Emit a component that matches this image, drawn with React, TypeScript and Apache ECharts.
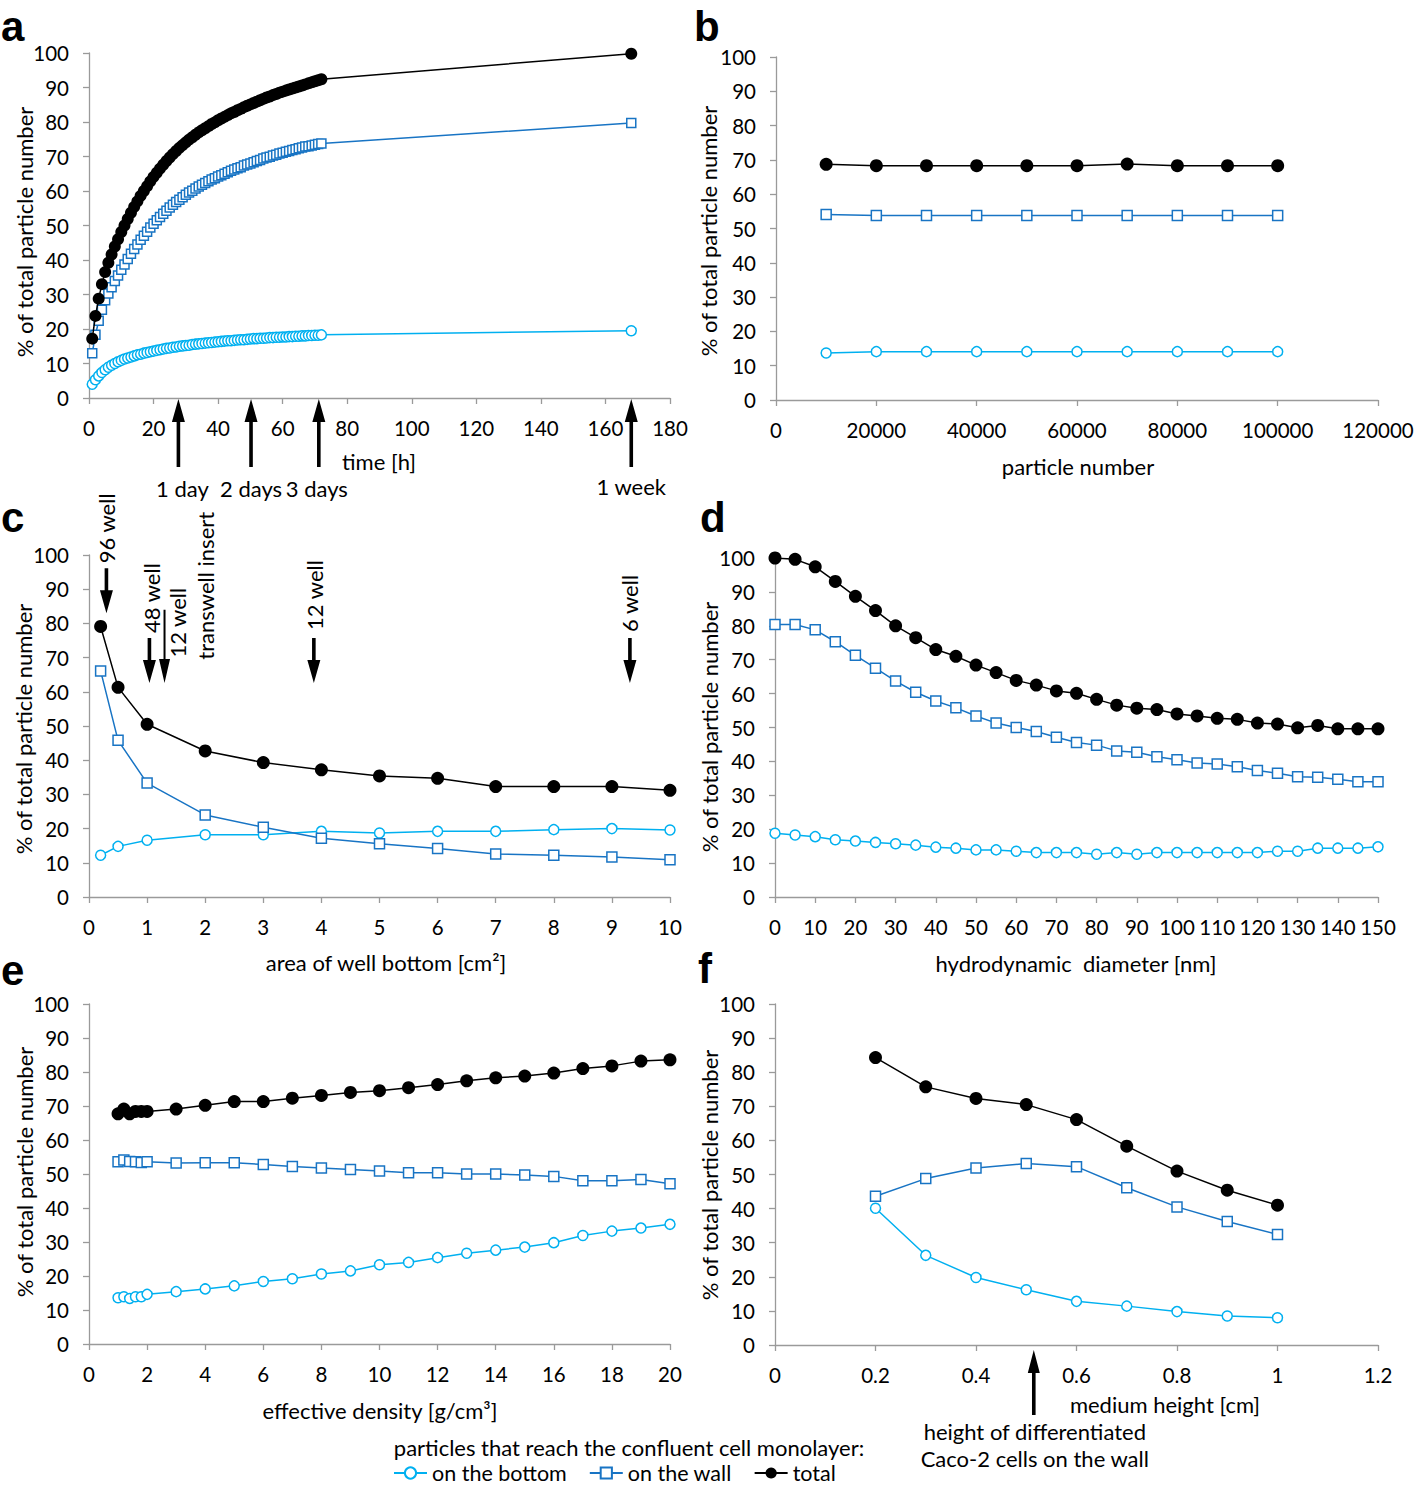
import React, { useEffect, useRef } from "react";
import * as echarts from "echarts";

// ---------- Panel a: time course ----------
const timeHours = [
  1, 2, 3, 4, 5, 6, 7, 8, 9, 10,
  11, 12, 13, 14, 15, 16, 17, 18, 19, 20,
  21, 22, 23, 24, 25, 26, 27, 28, 29, 30,
  31, 32, 33, 34, 35, 36, 37, 38, 39, 40,
  41, 42, 43, 44, 45, 46, 47, 48, 49, 50,
  51, 52, 53, 54, 55, 56, 57, 58, 59, 60,
  61, 62, 63, 64, 65, 66, 67, 68, 69, 70,
  71, 72, 168,
];
const aTotal = [
  17.2, 23.8, 28.8, 33.0, 36.5, 39.2, 41.6, 43.9, 46.0, 48.1,
  50.0, 51.9, 53.7, 55.4, 57.0, 58.6, 60.0, 61.4, 62.8, 64.1,
  65.3, 66.5, 67.6, 68.7, 69.7, 70.7, 71.6, 72.5, 73.3, 74.1,
  74.9, 75.6, 76.3, 77.0, 77.6, 78.2, 78.8, 79.4, 79.9, 80.5,
  81.0, 81.5, 82.0, 82.5, 82.9, 83.4, 83.8, 84.3, 84.7, 85.1,
  85.5, 85.9, 86.3, 86.7, 87.1, 87.4, 87.8, 88.1, 88.5, 88.8,
  89.1, 89.4, 89.7, 90.0, 90.3, 90.6, 90.9, 91.2, 91.5, 91.8,
  92.1, 92.4, 99.8,
];
const aWall = [
  13.0, 18.3, 22.4, 25.6, 28.3, 30.3, 32.1, 33.9, 35.5, 37.2,
  38.7, 40.3, 41.8, 43.2, 44.5, 45.9, 47.0, 48.2, 49.4, 50.5,
  51.5, 52.5, 53.4, 54.3, 55.2, 56.0, 56.8, 57.5, 58.2, 58.9,
  59.6, 60.1, 60.7, 61.3, 61.8, 62.3, 62.8, 63.3, 63.7, 64.2,
  64.6, 65.0, 65.4, 65.9, 66.2, 66.6, 66.9, 67.4, 67.7, 68.0,
  68.3, 68.7, 69.0, 69.4, 69.7, 69.9, 70.3, 70.5, 70.9, 71.1,
  71.4, 71.6, 71.9, 72.1, 72.4, 72.6, 72.9, 73.0, 73.2, 73.4,
  73.6, 73.8, 79.7,
];
const aBottom = [
  4.0, 5.3, 6.4, 7.4, 8.2, 8.9, 9.5, 10.0, 10.5, 10.9,
  11.3, 11.6, 11.9, 12.2, 12.5, 12.7, 13.0, 13.2, 13.4, 13.6,
  13.8, 14.0, 14.2, 14.4, 14.5, 14.7, 14.8, 15.0, 15.1, 15.2,
  15.3, 15.5, 15.6, 15.7, 15.8, 15.9, 16.0, 16.1, 16.2, 16.3,
  16.4, 16.5, 16.6, 16.6, 16.7, 16.8, 16.9, 16.9, 17.0, 17.1,
  17.2, 17.2, 17.3, 17.3, 17.4, 17.5, 17.5, 17.6, 17.6, 17.7,
  17.7, 17.8, 17.8, 17.9, 17.9, 18.0, 18.0, 18.1, 18.1, 18.2,
  18.2, 18.3, 19.5,
];
const aArrowHours = [27.7, 50.2, 71.2, 168];
const aArrowLabels = ["1 day", "2 days", "3 days", "1 week"];

// ---------- Panel b: particle number ----------
const particleNumbers = [10000, 20000, 30000, 40000, 50000, 60000, 70000, 80000, 90000, 100000];
const bTotal = [68.7, 68.3, 68.3, 68.3, 68.3, 68.3, 68.8, 68.3, 68.3, 68.3];
const bWall = [54.1, 53.8, 53.8, 53.8, 53.8, 53.8, 53.8, 53.8, 53.8, 53.8];
const bBottom = [13.7, 14.1, 14.1, 14.1, 14.1, 14.1, 14.1, 14.1, 14.1, 14.1];

// ---------- Panel c: area of well bottom ----------
const wellArea = [0.2, 0.5, 1, 2, 3, 4, 5, 6, 7, 8, 9, 10];
const cTotal = [79.1, 61.3, 50.5, 42.7, 39.3, 37.2, 35.4, 34.7, 32.3, 32.3, 32.3, 31.2];
const cWall = [66.1, 45.8, 33.3, 24.0, 20.4, 17.2, 15.6, 14.2, 12.6, 12.2, 11.7, 10.9];
const cBottom = [12.2, 14.8, 16.6, 18.2, 18.2, 19.2, 18.7, 19.2, 19.2, 19.7, 20.0, 19.6];
const cWellAreas = [0.3, 1.04, 1.3, 3.87, 9.31];
const cWellLabels = ["96 well", "48 well", "12 well", "12 well", "6 well"];

// ---------- Panel d: hydrodynamic diameter ----------
const diameterNm = [
  0, 5, 10, 15, 20, 25, 30, 35, 40, 45, 50, 55, 60, 65, 70, 75,
  80, 85, 90, 95, 100, 105, 110, 115, 120, 125, 130, 135, 140, 145, 150,
];
const dTotal = [
  100, 99.6, 97.4, 93.1, 88.7, 84.5, 80.0, 76.5, 73.0, 71.0,
  68.4, 66.2, 63.9, 62.5, 60.8, 60.1, 58.3, 56.6, 55.7, 55.3,
  54.0, 53.4, 52.7, 52.4, 51.3, 51.0, 49.9, 50.6, 49.6, 49.6, 49.6,
];
const dWall = [
  80.4, 80.4, 78.8, 75.3, 71.3, 67.5, 63.7, 60.4, 57.8, 55.8,
  53.4, 51.3, 50.0, 48.8, 47.1, 45.6, 44.8, 43.1, 42.7, 41.4,
  40.5, 39.5, 39.2, 38.4, 37.3, 36.5, 35.5, 35.3, 34.7, 34.0, 34.0,
];
const dBottom = [
  18.8, 18.3, 17.8, 16.9, 16.5, 16.1, 15.7, 15.3, 14.7, 14.4,
  13.9, 13.9, 13.5, 13.1, 13.1, 13.1, 12.6, 13.1, 12.6, 13.1,
  13.1, 13.1, 13.1, 13.1, 13.1, 13.5, 13.5, 14.4, 14.4, 14.4, 14.8,
];

// ---------- Panel e: effective density ----------
const densityGcm3 = [1, 1.2, 1.4, 1.6, 1.8, 2, 3, 4, 5, 6, 7, 8, 9, 10, 11, 12, 13, 14, 15, 16, 17, 18, 19, 20];
const eTotal = [
  67.7, 69.1, 67.7, 68.4, 68.4, 68.4, 69.1, 70.2, 71.3, 71.3, 72.3, 73.1,
  74.0, 74.5, 75.4, 76.3, 77.4, 78.3, 78.8, 79.7, 81.0, 81.8, 83.2, 83.6,
];
const eWall = [
  53.6, 54.1, 53.7, 53.6, 53.4, 53.6, 53.2, 53.3, 53.3, 52.8, 52.2, 51.8,
  51.3, 50.9, 50.4, 50.4, 50.0, 50.0, 49.7, 49.3, 48.0, 48.0, 48.4, 47.1,
];
const eBottom = [
  13.6, 13.9, 13.4, 13.9, 13.9, 14.6, 15.4, 16.2, 17.1, 18.4, 19.2, 20.6,
  21.5, 23.3, 24.0, 25.4, 26.7, 27.6, 28.5, 29.8, 31.9, 33.2, 34.1, 35.2,
];

// ---------- Panel f: medium height ----------
const mediumHeightCm = [0.2, 0.3, 0.4, 0.5, 0.6, 0.7, 0.8, 0.9, 1.0];
const fTotal = [84.3, 75.7, 72.3, 70.5, 66.1, 58.3, 51.0, 45.4, 41.0];
const fWall = [43.6, 48.8, 51.9, 53.2, 52.3, 46.1, 40.5, 36.2, 32.4];
const fBottom = [40.1, 26.3, 19.8, 16.2, 12.8, 11.4, 9.8, 8.5, 8.0];
const fCellHeightCm = 0.515;

// ---------- Axes / labels ----------
const yTicks = { min: 0, max: 100, interval: 10 };
const xAxesRange = [
  { min: 0, max: 180, interval: 20 },
  { min: 0, max: 120000, interval: 20000 },
  { min: 0, max: 10, interval: 1 },
  { min: 0, max: 150, interval: 10 },
  { min: 0, max: 20, interval: 2 },
  { min: 0, max: 1.2, interval: 0.2 },
];
const panelLetters = ["a", "b", "c", "d", "e", "f"];
const xTitles = [
  "time [h]",
  "particle number",
  "area of well bottom [cm\u00B2]",
  "hydrodynamic  diameter [nm]",
  "effective density [g/cm\u00B3]",
  "medium height [cm]",
];
const yTitle = "% of total particle number";
const seriesNames = ["on the bottom", "on the wall", "total"];
const legendTitle = "particles that reach the confluent cell monolayer:";
const fNoteLines = ["height of differentiated", "Caco-2 cells on the wall"];

const FONT = "Lato, Carlito, 'Open Sans', sans-serif";
const CYAN = "#00B0F0";
const BLUE = "#1874C4";
const AXIS = "#9a9a9a";
const TICK_FS = 20.5;
const TEXT_FS = 22;

const grids = [
  { left: 89, top: 53, width: 581, height: 345 },
  { left: 776, top: 57, width: 602, height: 343 },
  { left: 89, top: 555, width: 581, height: 342 },
  { left: 775, top: 558, width: 603, height: 339 },
  { left: 89, top: 1004, width: 581, height: 340 },
  { left: 775, top: 1004, width: 603, height: 341 },
];

const panelData = [
  { x: timeHours, b: aBottom, w: aWall, t: aTotal },
  { x: particleNumbers, b: bBottom, w: bWall, t: bTotal },
  { x: wellArea, b: cBottom, w: cWall, t: cTotal },
  { x: diameterNm, b: dBottom, w: dWall, t: dTotal },
  { x: densityGcm3, b: eBottom, w: eWall, t: eTotal },
  { x: mediumHeightCm, b: fBottom, w: fWall, t: fTotal },
];

const zip = (xs: number[], ys: number[]) => xs.map((x, i) => [x, ys[i]]);

function txt(text: string, x: number, y: number, o: any = {}) {
  const style: any = {
    text,
    fill: "#000",
    fontSize: o.size || TEXT_FS,
    fontFamily: o.family || FONT,
    fontWeight: o.weight || "normal",
    align: o.align || "center",
    verticalAlign: o.valign || "middle",
  };
  return {
    type: "text",
    x,
    y,
    rotation: o.rotation || 0,
    silent: true,
    z: 10,
    style,
  };
}

function arrow(x: number, tailY: number, tipY: number, headW: number, headL: number, shaftW: number) {
  const dir = tipY < tailY ? 1 : -1;
  const baseY = tipY + dir * headL;
  const hw = headW / 2;
  const sw = shaftW / 2;
  return {
    type: "polygon",
    silent: true,
    z: 10,
    shape: {
      points: [
        [x, tipY],
        [x + hw, baseY],
        [x + sw, baseY],
        [x + sw, tailY],
        [x - sw, tailY],
        [x - sw, baseY],
        [x - hw, baseY],
      ],
    },
    style: { fill: "#000" },
  };
}

export default function App() {
  const ref = useRef<HTMLDivElement>(null);

  useEffect(() => {
    document.body.style.margin = "0";
    const chart = echarts.init(ref.current!, null, { renderer: "svg" });

    const xAxis = xAxesRange.map((r, i) => ({
      type: "value",
      gridIndex: i,
      min: r.min,
      max: r.max,
      interval: r.interval,
      axisLine: { show: true, onZero: false, lineStyle: { color: AXIS, width: 1.3 } },
      axisTick: { show: true, inside: false, length: 6, lineStyle: { color: AXIS, width: 1.3 } },
      splitLine: { show: false },
      axisLabel: {
        color: "#000",
        fontSize: TICK_FS,
        fontFamily: FONT,
        margin: 19,
        formatter: (v: number) => String(Math.round(v * 10) / 10),
      },
    }));
    const yAxis = grids.map((_, i) => ({
      type: "value",
      gridIndex: i,
      min: yTicks.min,
      max: yTicks.max,
      interval: yTicks.interval,
      axisLine: { show: true, lineStyle: { color: AXIS, width: 1.3 } },
      axisTick: { show: true, inside: false, length: 6, lineStyle: { color: AXIS, width: 1.3 } },
      splitLine: { show: false },
      axisLabel: { color: "#000", fontSize: TICK_FS, fontFamily: FONT, margin: 20 },
    }));

    const series: any[] = [];
    panelData.forEach((p, i) => {
      const big = i === 0 ? 12 : 13;
      series.push({
        type: "line",
        name: seriesNames[0],
        xAxisIndex: i,
        yAxisIndex: i,
        data: zip(p.x, p.b),
        symbol: "circle",
        symbolSize: 10,
        itemStyle: { color: "#fff", borderColor: CYAN, borderWidth: 1.5 },
        lineStyle: { color: CYAN, width: 1.5 },
        z: 2,
      });
      series.push({
        type: "line",
        name: seriesNames[1],
        xAxisIndex: i,
        yAxisIndex: i,
        data: zip(p.x, p.w),
        symbol: "rect",
        symbolSize: i === 0 ? 9 : 10,
        itemStyle: { color: "#fff", borderColor: BLUE, borderWidth: 1.5 },
        lineStyle: { color: BLUE, width: 1.5 },
        z: 3,
      });
      series.push({
        type: "line",
        name: seriesNames[2],
        xAxisIndex: i,
        yAxisIndex: i,
        data: zip(p.x, p.t),
        symbol: "circle",
        symbolSize: big,
        itemStyle: { color: "#000", borderColor: "#000", borderWidth: 0 },
        lineStyle: { color: "#000", width: 1.5 },
        z: 4,
      });
    });

    chart.setOption({
      animation: false,
      backgroundColor: "#fff",
      textStyle: { fontFamily: FONT },
      grid: grids.map((g) => ({ ...g, containLabel: false })),
      xAxis,
      yAxis,
      series,
      legend: {
        data: seriesNames,
        left: 393,
        top: 1462,
        padding: 0,
        itemWidth: 33,
        itemHeight: 14,
        itemGap: 22,
        selectedMode: false,
        textStyle: { fontSize: 21.5, lineHeight: 20, color: "#000", fontFamily: FONT },
      },
    });

    const px = (i: number, x: number, y: number) =>
      chart.convertToPixel({ xAxisIndex: i, yAxisIndex: i } as any, [x, y]) as number[];

    const g: any[] = [];
    // panel letters
    const letterPos = [
      [1, 26], [694, 26], [1, 517], [700, 517], [1, 970], [698, 968],
    ];
    panelLetters.forEach((l, i) => {
      g.push(
        txt(l, letterPos[i][0], letterPos[i][1], {
          size: 42,
          weight: "bold",
          family: "'Liberation Sans', Arial, sans-serif",
          align: "left",
        })
      );
    });
    // y titles
    const yTitlePos = [
      [24, 232], [708, 231], [23, 729], [709, 727], [24, 1172], [709, 1175],
    ];
    yTitlePos.forEach((p) => g.push(txt(yTitle, p[0], p[1], { rotation: Math.PI / 2 })));
    // x titles
    const xTitlePos = [
      [379, 461], [1078, 466], [386, 962], [1076, 963], [380, 1410], [1165, 1404],
    ];
    xTitles.forEach((t, i) => g.push(txt(t, xTitlePos[i][0], xTitlePos[i][1])));

    // panel a arrows
    const aLabelDx = [4, 0, -2, 0];
    aArrowHours.forEach((h, k) => {
      const [x, y0] = px(0, h, 0);
      g.push(arrow(x, y0 + 69, y0 + 1, 13, 23, 3.6));
      g.push(txt(aArrowLabels[k], x + aLabelDx[k], k === 3 ? 486 : 488));
    });

    // panel c arrows + rotated labels
    const cTop = [96.1, 75.7, 84.0, 75.7, 75.7];
    const cTip = [83.0, 62.6, 62.6, 62.6, 62.6];
    cWellAreas.forEach((a, k) => {
      const [x, yTop] = px(2, a, cTop[k]);
      const [, yTip] = px(2, a, cTip[k]);
      if (k === 2) g.push(arrow(x, yTop, yTip, 11, 24, 2));
      else g.push(arrow(x, yTop, yTip, 13, 23, 3.6));
    });
    const cLabelBottom = [97.6, 77.2, 70.0, 78.1, 77.5];
    const cLabelDx = [0, 2, 12.7, 1, 0];
    cWellLabels.forEach((t, k) => {
      const [x, y] = px(2, cWellAreas[k], cLabelBottom[k]);
      g.push(txt(t, x + cLabelDx[k], y, { rotation: Math.PI / 2, align: "left" }));
    });
    {
      const [x, y] = px(2, cWellAreas[2], 69.4);
      g.push(txt("transwell insert", x + 41, y, { rotation: Math.PI / 2, align: "left" }));
    }

    // panel f arrow + note
    {
      const [x, y0] = px(5, fCellHeightCm, 0);
      g.push(arrow(x, y0 + 70, y0 + 5, 12, 23, 3.6));
      g.push(txt(fNoteLines[0], x + 1, 1431));
      g.push(txt(fNoteLines[1], x + 1, 1458));
    }

    // legend title
    g.push(txt(legendTitle, 629, 1447));

    chart.setOption({ graphic: g });

    return () => chart.dispose();
  }, []);

  return (
    <div
      ref={ref}
      style={{ position: "absolute", left: 0, top: 0, width: 1418, height: 1487, background: "#fff" }}
    />
  );
}
